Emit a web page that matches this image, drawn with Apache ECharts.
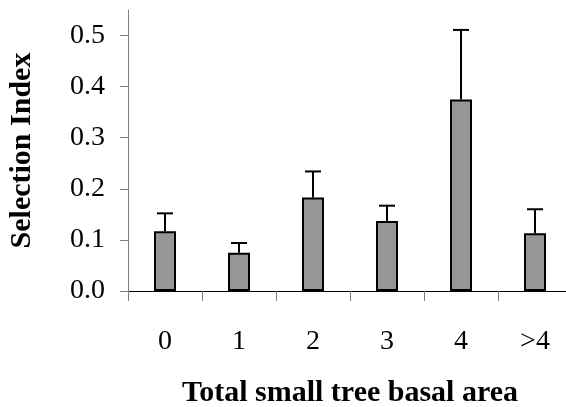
<!DOCTYPE html>
<html>
<head>
<meta charset="utf-8">
<script src="https://cdn.jsdelivr.net/npm/echarts@6/dist/echarts.min.js"></script>
<style>
  html, body { margin: 0; padding: 0; background: #fff; }
  #chart { width: 566px; height: 407px; }
</style>
</head>
<body>
<div id="chart"></div>
<script>
var categories = ['0', '1', '2', '3', '4', '>4'];
var selIndex = [0.117, 0.075, 0.183, 0.137, 0.375, 0.113];
var errTop = [0.152, 0.094, 0.234, 0.167, 0.511, 0.160];
var yTicks = [0, 0.1, 0.2, 0.3, 0.4, 0.5];

var myChart = echarts.init(document.getElementById('chart'));

var serif = 'Liberation Serif';

// error bar rows: [category index, bar value, top of the error bar]
var errData = categories.map(function (c, i) {
    return [i, selIndex[i], errTop[i]];
});

var option = {
    backgroundColor: '#fff',
    animation: false,
    grid: {
        left: 128,
        top: 10,
        bottom: 116,
        width: 444,
        outerBoundsMode: 'none'
    },
    xAxis: {
        type: 'category',
        data: categories,
        boundaryGap: true,
        axisLine: { lineStyle: { color: '#000', width: 1 } },
        axisTick: { show: true, length: 10, lineStyle: { color: '#808080' } },
        axisLabel: {
            margin: 37,
            fontSize: 28,
            fontFamily: serif,
            color: '#000'
        },
        name: 'Total small tree basal area',
        nameLocation: 'middle',
        nameGap: 87,
        nameTextStyle: {
            fontSize: 30,
            fontWeight: 'bold',
            fontFamily: serif,
            color: '#000'
        }
    },
    yAxis: {
        type: 'value',
        min: 0,
        max: 0.55,
        interval: 0.1,
        splitLine: { show: false },
        axisLine: { show: true, lineStyle: { color: '#808080', width: 1 } },
        axisTick: { show: true, length: 8, customValues: yTicks, lineStyle: { color: '#808080' } },
        axisLabel: {
            customValues: yTicks,
            margin: 23,
            fontSize: 28,
            fontFamily: serif,
            color: '#000',
            formatter: function (v) { return v.toFixed(1); }
        },
        name: 'Selection Index',
        nameLocation: 'middle',
        nameGap: 91,
        nameTextStyle: {
            fontSize: 30,
            fontWeight: 'bold',
            fontFamily: serif,
            color: '#000'
        }
    },
    series: [{
        type: 'bar',
        data: selIndex,
        barWidth: 22,
        itemStyle: {
            color: '#969696',
            borderColor: '#000',
            borderWidth: 2
        }
    }, {
        type: 'custom',
        data: errData,
        z: 1,
        renderItem: function (params, api) {
            var base = api.coord([api.value(0), api.value(1)]);
            var top = api.coord([api.value(0), api.value(2)]);
            var cap = 8;
            var style = { stroke: '#000', lineWidth: 2 };
            return {
                type: 'group',
                children: [{
                    type: 'line',
                    shape: { x1: base[0], y1: base[1], x2: top[0], y2: top[1] },
                    style: style
                }, {
                    type: 'line',
                    shape: { x1: top[0] - cap, y1: top[1], x2: top[0] + cap, y2: top[1] },
                    style: style
                }]
            };
        }
    }]
};

myChart.setOption(option);
</script>
</body>
</html>
